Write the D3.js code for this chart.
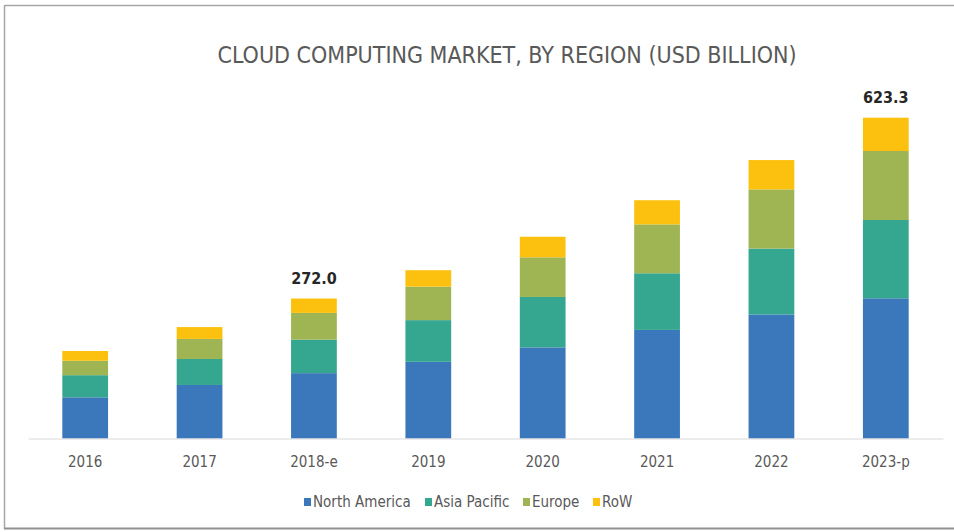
<!DOCTYPE html>
<html>
<head>
<meta charset="utf-8">
<script src="https://cdn.jsdelivr.net/npm/d3@7"></script>
<style>
  body { margin: 0; background: #fff; }
  svg { display: block; }
</style>
</head>
<body>
<script>
const years = ['2016', '2017', '2018-e', '2019', '2020', '2021', '2022', '2023-p']
const regions = ['North America', 'Asia Pacific', 'Europe', 'RoW']
const northAmerica = [80, 104, 127, 149, 177, 211, 241, 272.4]
const asiaPacific = [43, 50.5, 65, 81, 98, 110, 128, 152.1]
const europe = [28, 39, 52, 65, 77, 95, 115, 134.1]
const row = [19, 23, 28, 32, 40, 47, 57, 64.7]
const labels = { '2018-e': '272.0', '2023-p': '623.3' }
const colors = ['#3b77bb', '#35a68f', '#9fb553', '#fcc10f']

const width = 954, height = 532
const font = '"DejaVu Sans Condensed", "DejaVu Sans", sans-serif'

const svg = d3.select('body').append('svg')
    .attr('width', width)
    .attr('height', height)

// frame of the picture
svg.append('line').attr('x1', 5).attr('x2', width).attr('y1', 5.5).attr('y2', 5.5)
    .attr('stroke', '#a6a6a6').attr('stroke-width', 1.5)
svg.append('line').attr('x1', 4.5).attr('x2', 4.5).attr('y1', 5).attr('y2', 529)
    .attr('stroke', '#a6a6a6').attr('stroke-width', 1.5)
svg.append('line').attr('x1', 4).attr('x2', width).attr('y1', 528.5).attr('y2', 528.5)
    .attr('stroke', '#909090').attr('stroke-width', 2)

svg.append('text')
    .attr('x', 507).attr('y', 63)
    .attr('text-anchor', 'middle')
    .attr('font-family', font)
    .attr('font-size', 23)
    .attr('fill', '#595959')
    .text('CLOUD COMPUTING MARKET, BY REGION (USD BILLION)')

const data = years.map((y, i) => ({
    year: y,
    'North America': northAmerica[i],
    'Asia Pacific': asiaPacific[i],
    'Europe': europe[i],
    'RoW': row[i]
}))

const stack = d3.stack().keys(regions)(data)

const x = d3.scaleBand()
    .domain(years)
    .range([28, 943])
    .paddingInner(0.6)
    .paddingOuter(0.3)

const y = d3.scaleLinear()
    .domain([0, 623.3])
    .range([438.5, 117.7])

svg.append('g')
    .selectAll('g')
    .data(stack)
    .join('g')
    .attr('fill', (d, i) => colors[i])
    .selectAll('rect')
    .data(d => d)
    .join('rect')
    .attr('x', d => x(d.data.year))
    .attr('width', x.bandwidth())
    .attr('y', d => y(d[1]))
    .attr('height', d => y(d[0]) - y(d[1]))

// base line + year labels
const axis = svg.append('g')
    .attr('transform', 'translate(0,' + y(0) + ')')
    .call(d3.axisBottom(x).tickSize(0).tickPadding(18))
axis.select('.domain').attr('stroke', '#d9d9d9')
axis.selectAll('text')
    .attr('font-family', font)
    .attr('font-size', 15)
    .attr('fill', '#595959')

// totals above two bars
const totals = data.map(d => d3.sum(regions, k => d[k]))
svg.append('g')
    .selectAll('text')
    .data(data.filter(d => labels[d.year]))
    .join('text')
    .attr('x', d => x(d.year) + x.bandwidth() / 2)
    .attr('y', d => y(totals[years.indexOf(d.year)]) - 15)
    .attr('text-anchor', 'middle')
    .attr('font-family', font)
    .attr('font-weight', 'bold')
    .attr('font-size', 16)
    .attr('fill', '#262626')
    .text(d => labels[d.year])

// legend
const legendX = [304, 425, 523, 593]
const legend = svg.append('g')
    .selectAll('g')
    .data(regions)
    .join('g')
    .attr('transform', (d, i) => 'translate(' + legendX[i] + ',502)')
legend.append('rect')
    .attr('x', 0).attr('y', -4)
    .attr('width', 7).attr('height', 8)
    .attr('fill', (d, i) => colors[i])
legend.append('text')
    .attr('x', 9).attr('y', 5)
    .attr('font-family', font)
    .attr('font-size', 15)
    .attr('fill', '#595959')
    .text(d => d)
</script>
</body>
</html>
